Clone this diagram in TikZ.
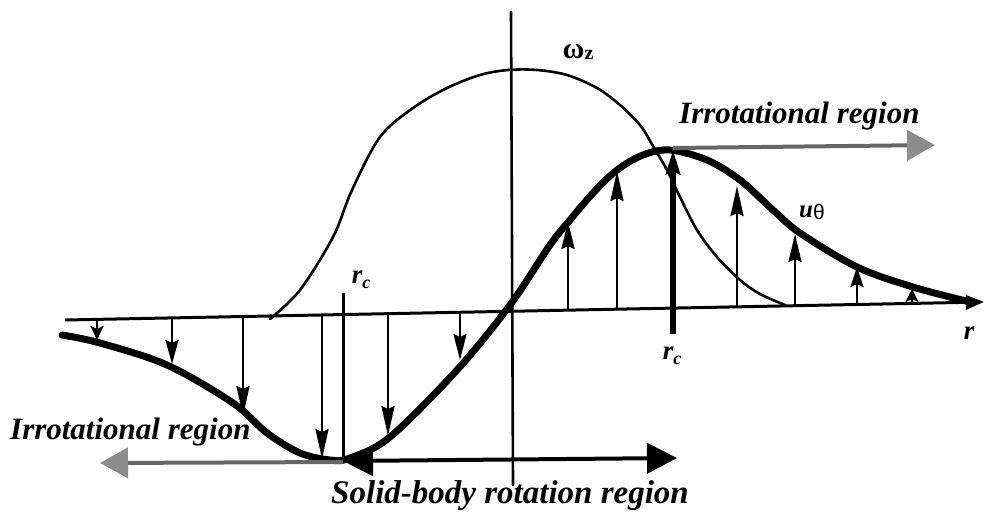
\documentclass[tikz,border=0pt]{standalone}
\usepackage{fontspec}
\setmainfont{Liberation Serif}
\newfontfamily\grsans{Liberation Sans}
\usetikzlibrary{arrows.meta}
\begin{document}
\begin{tikzpicture}[x=1pt,y=-1pt,
  thinline/.style={line width=2.6pt,line cap=round},
  ucurve/.style={line width=7pt,line cap=round},
  varrow/.style={line width=2.6pt,-{Stealth[length=#1,width=13pt,inset=3pt]}},
  grayline/.style={line width=4pt,draw=black!60,-{Triangle[length=28pt,width=30pt,color=black!45,fill=black!45]}},
  solidarrow/.style={line width=4pt,{Triangle[length=30pt,width=30pt]}-{Triangle[length=30pt,width=30pt]}},
  lbl/.style={font=\bfseries\itshape\fontsize{31}{34}\selectfont,inner sep=0pt}
]
\useasboundingbox (0,0) rectangle (984,517);
% axes
\draw[line width=3pt,-{Triangle[length=18pt,width=14pt]}] (65,320) -- (984,302);
\draw[thinline] (511,12) -- (513,485);
% omega_z curve
\draw[thinline] plot[smooth,tension=0.55] coordinates {(270,319) (300,290) (333,237) (352,190) (380,137) (413,108) (447,88) (480,75) (508,70) (537,70) (567,75) (597,88) (620,105) (640,125) (653,146) (667,170) (680,197) (697,230) (717,257) (740,280) (760,294) (785,305)};
% u_theta curve
\draw[ucurve] plot[smooth,tension=0.55] coordinates {(62,335) (100,343) (167,365) (233,403) (267,433) (300,453) (330,460) (350,458) (390,437) (457,370) (510,305) (550,245) (570,220) (593,193) (617,170) (643,155) (670,150) (707,160) (740,180) (773,210) (800,233) (857,267) (913,287) (970,302)};
% velocity arrows
\foreach \x/\yt/\hl in {97/340/14pt,172/364/24pt,243/416/30pt,322/459/30pt,388/436/30pt,460/360/26pt,568/221/28pt,617/171/30pt,737/186/30pt,795/234/28pt,857/267/20pt,912/289/13pt}
  \draw[varrow=\hl] (\x,{320-(\x-65)*0.0196}) -- (\x,\yt);
% r_c lines
\draw[line width=6pt,-{Stealth[length=24pt,width=14pt,inset=3pt]}] (673,334) -- (673,150);
\draw[line width=3pt] (343,293) -- (343,462);
% region arrows
\draw[grayline] (673,148) -- (935,145);
\draw[grayline] (343,462) -- (100,463);
\draw[solidarrow] (343,461) -- (677,458);
% labels
\node[inner sep=0pt,font=\bfseries\fontsize{30}{32}\selectfont] (wz) at (578,52) {ω\raisebox{-0.1ex}{\fontsize{20}{22}\selectfont z}};
\node[lbl,anchor=west] (irr1) at (679,116) {Irrotational region};
\node[lbl,anchor=west] (irr2) at (10,432) {Irrotational region};
\node[lbl,font=\bfseries\itshape\fontsize{33}{36}\selectfont] (sbr) at (510,496) {Solid-body rotation region};
\node[inner sep=0pt,font=\bfseries\itshape\fontsize{27}{30}\selectfont] (rc1) at (361,280) {r\raisebox{-0.4ex}{\fontsize{18}{20}\selectfont c}};
\node[inner sep=0pt,font=\bfseries\itshape\fontsize{27}{30}\selectfont] (rc2) at (672,356) {r\raisebox{-0.4ex}{\fontsize{18}{20}\selectfont c}};
\node[inner sep=0pt,font=\bfseries\itshape\fontsize{27}{30}\selectfont] (r) at (969,333) {r};
\node[inner sep=0pt] (ut) at (812,212) {{\bfseries\itshape\fontsize{25}{28}\selectfont u}\raisebox{-0.5ex}{\grsans\fontsize{21}{24}\selectfont θ}};
\end{tikzpicture}
\end{document}
